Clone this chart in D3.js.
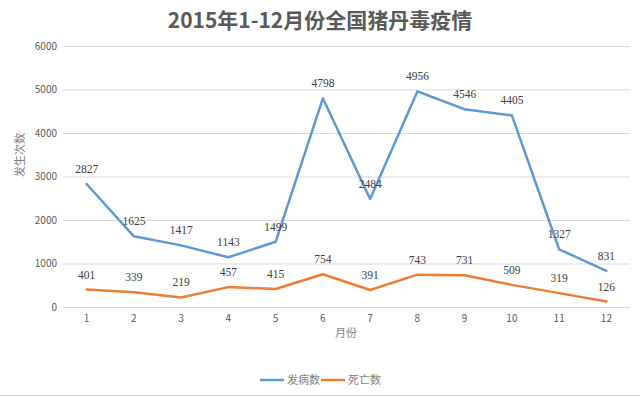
<!DOCTYPE html>
<html lang="zh">
<head>
    <meta charset="UTF-8">
    <title>2015年1-12月份全国猪丹毒疫情</title>
    <style>
        body { margin: 0; background: #fff; }
        svg { display: block; }
    </style>
    <script src="https://d3js.org/d3.v7.min.js"></script>
</head>
<body>
    <script>
        const WIDTH = 640;
        const HEIGHT = 397;
        const MARGIN = { top: 46, right: 10, bottom: 90, left: 63 };

        const months = ["1", "2", "3", "4", "5", "6", "7", "8", "9", "10", "11", "12"];
        const onset = [2827, 1625, 1417, 1143, 1499, 4798, 2484, 4956, 4546, 4405, 1327, 831];
        const deaths = [401, 339, 219, 457, 415, 754, 391, 743, 731, 509, 319, 126];
        const yTicks = [0, 1000, 2000, 3000, 4000, 5000, 6000];
        const seriesNames = ["发病数", "死亡数"];
        const colors = ["#5B9BD5", "#ED7D31"];

        const SANS = "'Noto Sans CJK SC', 'Noto Sans', sans-serif";
        const SERIF = "'Liberation Serif', 'DejaVu Serif', serif";

        const svg = d3.select("body").append("svg")
            .attr("width", WIDTH)
            .attr("height", HEIGHT);

        const x = d3.scaleBand()
            .domain(months)
            .range([MARGIN.left, WIDTH - MARGIN.right]);

        const y = d3.scaleLinear()
            .domain([0, 6000])
            .range([307, MARGIN.top]);

        // title
        svg.append("text")
            .attr("x", 320)
            .attr("y", 28)
            .attr("text-anchor", "middle")
            .attr("font-family", SANS)
            .attr("font-weight", "bold")
            .attr("font-size", "21px")
            .attr("fill", "#595959")
            .text("2015年1-12月份全国猪丹毒疫情");

        // grid lines
        svg.append("g")
            .selectAll("line")
            .data(yTicks)
            .enter()
            .append("line")
            .attr("x1", MARGIN.left)
            .attr("x2", WIDTH - MARGIN.right)
            .attr("y1", d => y(d) + 0.5)
            .attr("y2", d => y(d) + 0.5)
            .attr("stroke", "#D9D9D9")
            .attr("stroke-width", 1);

        // y axis labels
        const yAxis = svg.append("g")
            .attr("transform", `translate(${MARGIN.left - 6},0)`)
            .call(d3.axisLeft(y).tickValues(yTicks).tickFormat(d3.format("d")).tickSize(0).tickPadding(0));
        yAxis.select(".domain").remove();
        yAxis.selectAll("text")
            .attr("font-family", SANS)
            .attr("font-size", "10px")
            .attr("fill", "#595959");

        // x axis labels
        const xAxis = svg.append("g")
            .attr("transform", `translate(0,${y(0) + 8})`)
            .call(d3.axisBottom(x).tickSize(0).tickPadding(0));
        xAxis.select(".domain").remove();
        xAxis.selectAll("text")
            .attr("font-family", SANS)
            .attr("font-size", "10px")
            .attr("fill", "#595959");

        // axis titles
        svg.append("text")
            .attr("transform", "translate(24,155) rotate(-90)")
            .attr("text-anchor", "middle")
            .attr("font-family", SANS)
            .attr("font-size", "11px")
            .attr("fill", "#7F7F7F")
            .text("发生次数");

        svg.append("text")
            .attr("x", 346)
            .attr("y", 337)
            .attr("text-anchor", "middle")
            .attr("font-family", SANS)
            .attr("font-size", "11px")
            .attr("fill", "#7F7F7F")
            .text("月份");

        // lines
        const line = d3.line()
            .x((d, i) => x(months[i]) + x.bandwidth() / 2)
            .y(d => y(d));

        [onset, deaths].forEach((values, k) => {
            svg.append("path")
                .datum(values)
                .attr("fill", "none")
                .attr("stroke", colors[k])
                .attr("stroke-width", 2.5)
                .attr("stroke-linejoin", "round")
                .attr("stroke-linecap", "round")
                .attr("d", line);

            svg.append("g")
                .selectAll("text")
                .data(values)
                .enter()
                .append("text")
                .attr("x", (d, i) => x(months[i]) + x.bandwidth() / 2)
                .attr("y", d => y(d) - 11)
                .attr("text-anchor", "middle")
                .attr("font-family", SERIF)
                .attr("font-size", "11.5px")
                .attr("fill", "#404040")
                .text(d => d);
        });

        // legend
        const legendX = [260, 321];
        seriesNames.forEach((name, k) => {
            const g = svg.append("g").attr("transform", `translate(${legendX[k]},380)`);
            g.append("line")
                .attr("x1", 0).attr("x2", 24)
                .attr("y1", 0).attr("y2", 0)
                .attr("stroke", colors[k])
                .attr("stroke-width", 2.5);
            g.append("text")
                .attr("x", 27)
                .attr("y", 4)
                .attr("font-family", SANS)
                .attr("font-size", "11px")
                .attr("fill", "#7F7F7F")
                .text(name);
        });

        // frame line at the bottom
        svg.append("line")
            .attr("x1", 0).attr("x2", WIDTH)
            .attr("y1", 395.5).attr("y2", 395.5)
            .attr("stroke", "#D9D9D9");
    </script>
</body>
</html>
